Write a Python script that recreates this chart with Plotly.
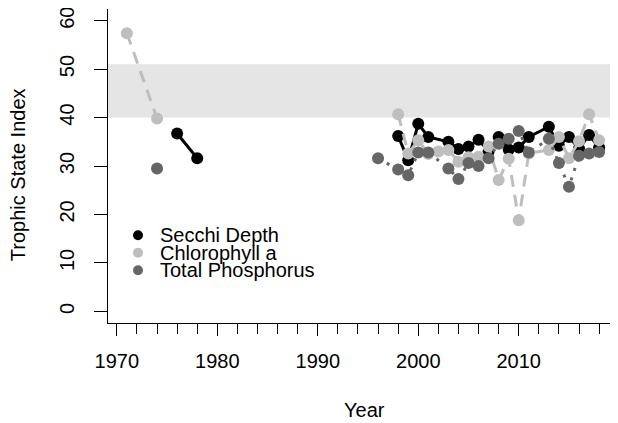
import plotly.graph_objects as go

# ---------------- data ----------------
secchi_years = [1976, 1978, 1996, 1998, 1999, 2000, 2001, 2003, 2004, 2005, 2006, 2007,
                2008, 2009, 2010, 2011, 2013, 2014, 2015, 2016, 2017, 2018]
secchi_tsi = [36.7, 31.6, None, 36.2, 31.2, 38.7, 36.0, 35.0, 33.5, 34.0, 35.4, 33.0,
              36.0, 33.4, 33.8, 36.0, 38.1, 34.2, 36.0, 33.6, 36.4, 33.8]

chl_years = [1971, 1974, 1976, 1998, 1999, 2000, 2001, 2002, 2003, 2004, 2005, 2006,
             2007, 2008, 2009, 2010, 2011, 2013, 2014, 2015, 2016, 2017, 2018]
chl_tsi = [57.4, 39.8, None, 40.7, 32.6, 35.3, 32.5, 33.0, 33.3, 30.9, 31.8, 31.9,
           34.0, 27.1, 31.5, 18.8, 32.6, 33.3, 36.0, 31.6, 35.1, 40.7, 35.3]

tp_years = [1974, 1976, 1996, 1998, 1999, 2000, 2001, 2003, 2004, 2005, 2006, 2007,
            2008, 2009, 2010, 2011, 2013, 2014, 2015, 2016, 2017, 2018]
tp_tsi = [29.5, None, 31.6, 29.3, 28.1, 32.8, 32.8, 29.5, 27.3, 30.6, 30.0, 31.6,
          34.6, 35.6, 37.2, 32.8, 35.6, 30.6, 25.7, 32.1, 32.6, 32.9]

series_names = ["Secchi Depth", "Chlorophyll a", "Total Phosphorus"]
series_colors = ["#000000", "#bebebe", "#666666"]
series_dash = ["solid", "12px,8px", "3px,7px"]

band_low, band_high = 40, 51
x_ticks = [1970, 1980, 1990, 2000, 2010]
y_ticks = [0, 10, 20, 30, 40, 50, 60]
x_range = [1969.12, 2019.88]
y_range = [-2.4, 62.4]

FONT = "Liberation Sans, Arial, Helvetica, sans-serif"
FS = 20
OFF = 8  # page body margin in the browser
W, H = 618 - OFF, 423 - OFF
ML, MR, MT, MB = 108 - OFF, 0, 9 - OFF, 423 - 322.7

fig = go.Figure()
for yrs, vals, name, col, dash in zip(
        [secchi_years, chl_years, tp_years],
        [secchi_tsi, chl_tsi, tp_tsi],
        series_names, series_colors, series_dash):
    fig.add_trace(go.Scatter(
        x=yrs, y=vals, name=name, mode="lines+markers",
        line=dict(color=col, width=3, dash=dash),
        marker=dict(color=col, size=12, line=dict(width=0)),
        connectgaps=False, showlegend=False, hoverinfo="skip"))

# grey band
fig.add_shape(type="rect", xref="paper", yref="y", x0=0, x1=1,
              y0=band_low, y1=band_high, fillcolor="#e5e5e5",
              line=dict(width=0), layer="below")

# manual legend (R style, tight spacing); positions given in reference pixels
pw, ph = W - ML - MR, H - MT - MB
def px2paper(px, py):
    return (px - OFF - ML) / pw, (H - MB - (py - OFF)) / ph

leg_y = [235, 252.5, 270]
for name, col, ly in zip(series_names, series_colors, leg_y):
    xa, ya = px2paper(138, ly)
    fig.add_shape(type="circle", xref="paper", yref="paper",
                  xsizemode="pixel", ysizemode="pixel",
                  xanchor=xa, yanchor=ya, x0=-5, x1=5, y0=-5, y1=5,
                  fillcolor=col, line=dict(width=0))
    xt, yt = px2paper(158, ly)
    fig.add_annotation(x=xt, y=yt, xref="paper", yref="paper", text=name,
                       showarrow=False, xanchor="left", yanchor="middle",
                       font=dict(family=FONT, size=FS, color="black"))

# axis titles
xa, ya = px2paper(364, 410)
fig.add_annotation(x=xa, y=ya, xref="paper", yref="paper", text="Year",
                   showarrow=False, xanchor="center", yanchor="middle",
                   font=dict(family=FONT, size=FS, color="black"))
xa, ya = px2paper(18, 175)
fig.add_annotation(x=xa, y=ya, xref="paper", yref="paper", text="Trophic State Index",
                   showarrow=False, xanchor="center", yanchor="middle", textangle=-90,
                   font=dict(family=FONT, size=FS, color="black"))

fig.update_layout(
    width=W, height=H,
    margin=dict(l=ML, r=MR, t=MT, b=MB, autoexpand=False, pad=0),
    paper_bgcolor="white", plot_bgcolor="white",
    font=dict(family=FONT, size=FS, color="black"),
    showlegend=False,
    xaxis=dict(range=x_range, tickvals=x_ticks, ticks="outside", ticklen=12,
               tickwidth=1, tickcolor="black", showline=True, linecolor="black",
               linewidth=1, showgrid=False, zeroline=False, ticklabelstandoff=8,
               ticklabeloverflow="allow",
               minor=dict(dtick=2, tick0=1970, ticks="outside", ticklen=10,
                          tickwidth=1, tickcolor="black", showgrid=False),
               tickfont=dict(family=FONT, size=FS, color="black")),
    yaxis=dict(range=y_range, tickvals=y_ticks, ticks="outside", ticklen=13,
               tickwidth=1, tickcolor="black", showline=True, linecolor="black",
               linewidth=1, showgrid=False, zeroline=False, tickangle=-90,
               ticklabelstandoff=12, ticklabeloverflow="allow",
               tickfont=dict(family=FONT, size=FS, color="black")),
)

fig.write_html("out.html")
